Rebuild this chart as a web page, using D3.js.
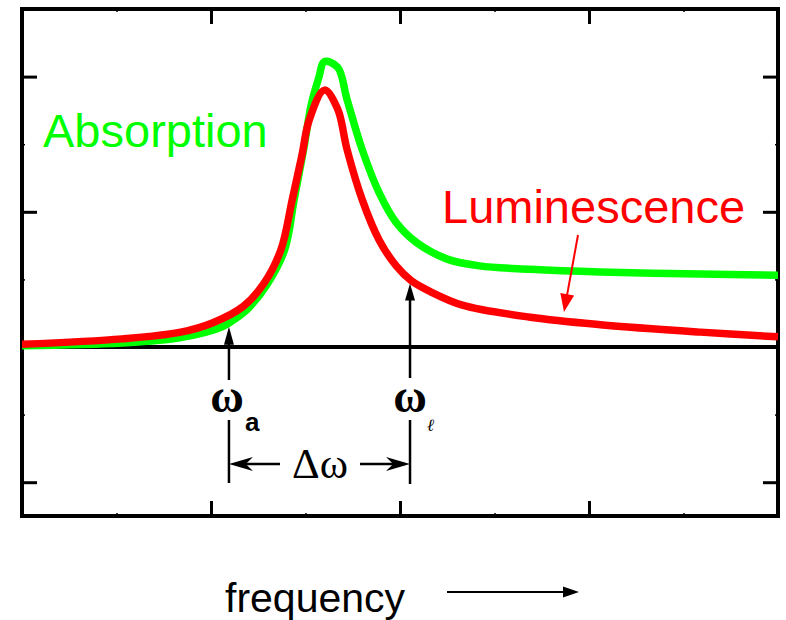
<!DOCTYPE html>
<html>
<head>
<meta charset="utf-8">
<script src="https://cdn.jsdelivr.net/npm/d3@7"></script>
<style>
  body { margin: 0; background: #fff; }
  svg { display: block; }
</style>
</head>
<body>
<div id="chart"></div>
<script>
// Curve samples (x: frequency, arbitrary units; y: signal)
const absorptionX = [0, 0.53, 0.84, 1.06, 1.13, 1.20, 1.30, 1.39, 1.44, 1.49, 1.53, 1.57, 1.60, 1.67, 1.72, 1.80, 1.89, 1.98, 2.09, 2.25, 2.42, 2.69, 3.06, 3.59, 4.00]
const absorptionY = [0.01, 0.03, 0.07, 0.15, 0.21, 0.29, 0.47, 0.72, 1.09, 1.46, 1.79, 1.99, 2.11, 2.07, 1.83, 1.46, 1.14, 0.92, 0.77, 0.65, 0.60, 0.575, 0.555, 0.54, 0.53]
const luminescenceX = [0, 0.53, 0.84, 1.01, 1.17, 1.28, 1.37, 1.43, 1.48, 1.52, 1.60, 1.67, 1.72, 1.80, 1.89, 1.98, 2.06, 2.16, 2.33, 2.69, 3.06, 3.59, 4.00]
const luminescenceY = [0.02, 0.06, 0.11, 0.18, 0.30, 0.47, 0.72, 1.09, 1.41, 1.68, 1.90, 1.76, 1.46, 1.09, 0.79, 0.60, 0.49, 0.41, 0.31, 0.22, 0.165, 0.11, 0.075]

// Axis ticks (no labels in the picture)
const xMajorTicks = [1, 2, 3]
const xMinorTicks = [0.5, 1.5, 2.5, 3.5]
const yMajorTicks = [-1, 0, 1, 2]
const yMinorTicks = [-0.5, 0.5, 1.5]

// Marked frequencies
const omegaA = 1.095
const omegaL = 2.053
const omegaATipY = 0.15
const omegaLTipY = 0.47

const width = 786, height = 620
const frameL = 22, frameR = 778, frameT = 9, frameB = 516

const svg = d3.select("#chart").append("svg")
    .attr("width", width)
    .attr("height", height)

const x = d3.scaleLinear().domain([0, 4]).range([frameL, frameR])
const y = d3.scaleLinear().domain([-1.25, 2.5]).range([frameB, frameT])

// Inward ticks on all four sides
function tickAxis(axis, transform, ticks, size, sw) {
    const g = svg.append("g")
        .attr("transform", transform)
        .call(axis.tickValues(ticks).tickSize(-size).tickSizeOuter(0).tickFormat(""))
    g.select(".domain").remove()
    g.selectAll("line").attr("stroke", "#000").attr("stroke-width", sw)
}
tickAxis(d3.axisBottom(x), `translate(0,${frameB})`, xMajorTicks, 15, 3)
tickAxis(d3.axisTop(x), `translate(0,${frameT})`, xMajorTicks, 15, 3)
tickAxis(d3.axisLeft(y), `translate(${frameL},0)`, yMajorTicks, 15, 3)
tickAxis(d3.axisRight(y), `translate(${frameR},0)`, yMajorTicks, 15, 3)
tickAxis(d3.axisBottom(x), `translate(0,${frameB})`, xMinorTicks, 3, 1.5)
tickAxis(d3.axisTop(x), `translate(0,${frameT})`, xMinorTicks, 3, 1.5)
tickAxis(d3.axisLeft(y), `translate(${frameL},0)`, yMinorTicks, 3, 1.5)
tickAxis(d3.axisRight(y), `translate(${frameR},0)`, yMinorTicks, 3, 1.5)

// Frame
svg.append("rect")
    .attr("x", frameL).attr("y", frameT)
    .attr("width", frameR - frameL).attr("height", frameB - frameT)
    .attr("fill", "none").attr("stroke", "#000").attr("stroke-width", 4)

// Zero line
svg.append("line")
    .attr("x1", x(0)).attr("x2", x(4))
    .attr("y1", y(0)).attr("y2", y(0))
    .attr("stroke", "#000").attr("stroke-width", 4)

const line = d3.line()
    .x(d => x(d[0]))
    .y(d => y(d[1]))
    .curve(d3.curveCatmullRom.alpha(0.5))

svg.append("path")
    .datum(d3.zip(absorptionX, absorptionY))
    .attr("d", line)
    .attr("fill", "none").attr("stroke", "#00ff00")
    .attr("stroke-width", 7.5).attr("stroke-linejoin", "miter")

svg.append("path")
    .datum(d3.zip(luminescenceX, luminescenceY))
    .attr("d", line)
    .attr("fill", "none").attr("stroke", "#ff0000")
    .attr("stroke-width", 7.5).attr("stroke-linejoin", "miter")

// Arrow helper: line from (x1,y1) to tip (x2,y2), filled head at tip
function arrow(x1, y1, x2, y2, colour, sw, headLen, headW, barbed) {
    const a = Math.atan2(y2 - y1, x2 - x1)
    const ux = Math.cos(a), uy = Math.sin(a)
    const bx = x2 - ux * headLen, by = y2 - uy * headLen
    svg.append("line")
        .attr("x1", x1).attr("y1", y1)
        .attr("x2", x2 - ux * headLen * 0.6).attr("y2", y2 - uy * headLen * 0.6)
        .attr("stroke", colour).attr("stroke-width", sw)
    const back = barbed ? 0.7 : 1
    const pts = [
        [x2, y2],
        [bx - uy * headW, by + ux * headW],
        [x2 - ux * headLen * back, y2 - uy * headLen * back],
        [bx + uy * headW, by - ux * headW]
    ]
    svg.append("path")
        .attr("d", "M" + pts.map(p => p.join(",")).join("L") + "Z")
        .attr("fill", colour)
}

function vline(xv, y1, y2) {
    svg.append("line")
        .attr("x1", xv).attr("x2", xv).attr("y1", y1).attr("y2", y2)
        .attr("stroke", "#000").attr("stroke-width", 2.5)
}

const xa = x(omegaA), xl = x(omegaL)

// omega_a marker
arrow(xa, 380, xa, y(omegaATipY), "#000", 2.5, 18, 5, false)
vline(xa, 420, 483)
// omega_l marker
arrow(xl, 378, xl, y(omegaLTipY), "#000", 2.5, 17, 5, false)
vline(xl, 420, 484)

// Delta omega span
arrow(280, 464, xa, 464, "#000", 2.5, 24, 7, true)
arrow(360, 464, xl, 464, "#000", 2.5, 24, 7, true)

// Luminescence pointer
arrow(578, 235, 564, 312, "#ff0000", 2, 18, 7, false)

// frequency arrow
arrow(447, 592, 579, 592, "#000", 2, 16, 5.5, false)

// Texts
svg.append("text")
    .attr("x", 43).attr("y", 147)
    .attr("font-family", "Liberation Sans, Arial, sans-serif")
    .attr("font-size", 47).attr("fill", "#00ff00")
    .text("Absorption")

svg.append("text")
    .attr("x", 442).attr("y", 223)
    .attr("font-family", "Liberation Sans, Arial, sans-serif")
    .attr("font-size", 47).attr("fill", "#ff0000")
    .text("Luminescence")

svg.append("text")
    .attr("x", xa - 2).attr("y", 412)
    .attr("text-anchor", "middle")
    .attr("font-family", "Liberation Serif, Times New Roman, serif")
    .attr("font-weight", "bold")
    .attr("font-size", 46)
    .text("ω")

svg.append("text")
    .attr("x", 245).attr("y", 431)
    .attr("font-family", "Liberation Sans, Arial, sans-serif")
    .attr("font-weight", "bold")
    .attr("font-size", 26)
    .text("a")

svg.append("text")
    .attr("x", xl).attr("y", 412)
    .attr("text-anchor", "middle")
    .attr("font-family", "Liberation Serif, Times New Roman, serif")
    .attr("font-weight", "bold")
    .attr("font-size", 46)
    .text("ω")

svg.append("text")
    .attr("x", 427).attr("y", 431)
    .attr("font-family", "DejaVu Serif, serif")
    .attr("font-style", "italic")
    .attr("font-size", 17)
    .text("ℓ")

svg.append("text")
    .attr("x", 320).attr("y", 478)
    .attr("text-anchor", "middle")
    .attr("font-family", "Liberation Serif, Times New Roman, serif")
    .attr("font-size", 43)
    .text("Δω")

svg.append("text")
    .attr("x", 225).attr("y", 612)
    .attr("font-family", "Liberation Sans, Arial, sans-serif")
    .attr("font-size", 41)
    .text("frequency")
</script>
</body>
</html>
